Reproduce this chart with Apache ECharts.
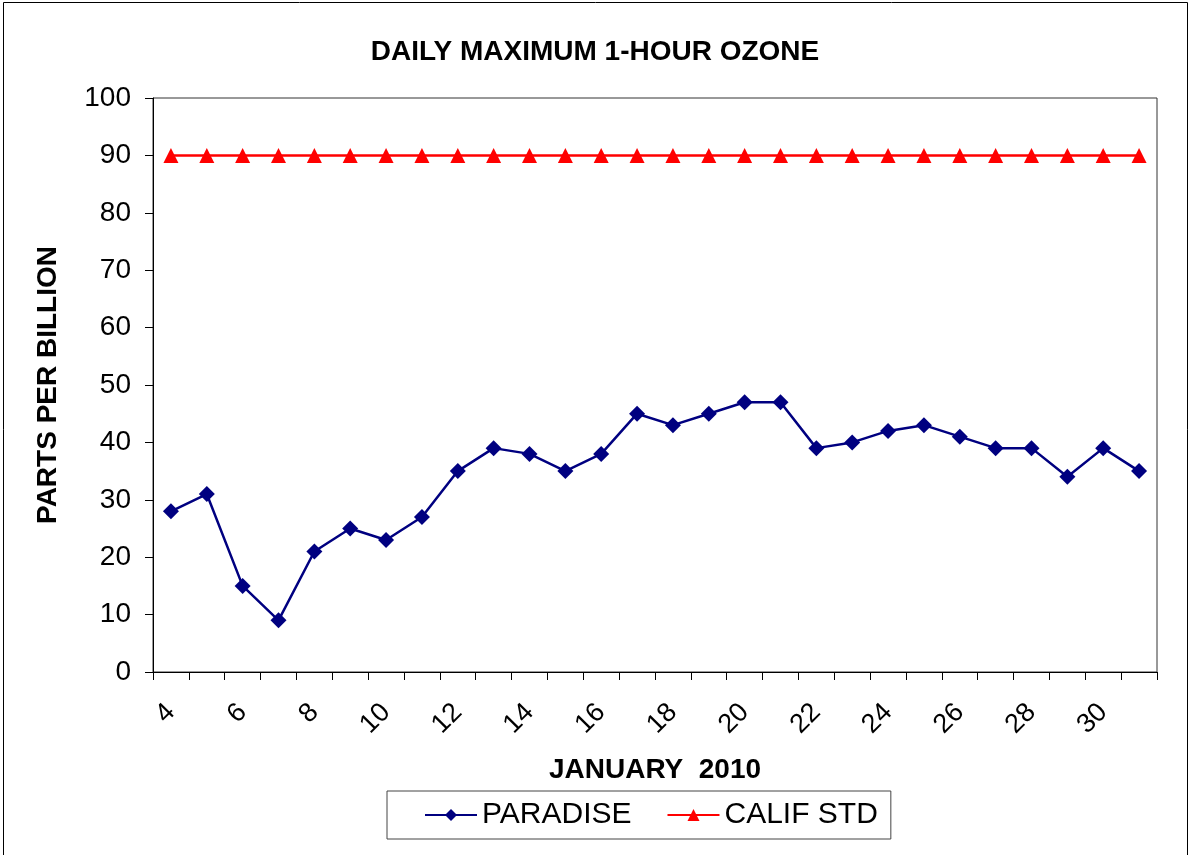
<!DOCTYPE html>
<html>
<head>
<meta charset="utf-8">
<script src="https://cdn.jsdelivr.net/npm/echarts@6/dist/echarts.min.js"></script>
<style>
  html, body { margin: 0; padding: 0; background: #fff; }
  #chart { width: 1190px; height: 855px; }
</style>
</head>
<body>
<div id="chart"></div>
<script>
// days of January 2010
var days = ['4','5','6','7','8','9','10','11','12','13','14','15','16','17','18','19','20','21','22','23','24','25','26','27','28','29','30','31'];
var paradise = [28,31,15,9,21,25,23,27,35,39,38,35,38,45,43,45,47,47,39,40,42,43,41,39,39,34,39,35];
var califStd = [90,90,90,90,90,90,90,90,90,90,90,90,90,90,90,90,90,90,90,90,90,90,90,90,90,90,90,90];

var font = '"Liberation Sans", Arial, sans-serif';

var option = {
    animation: false,
    backgroundColor: '#fff',
    title: {
        text: 'DAILY MAXIMUM 1-HOUR OZONE',
        left: 'center',
        top: 33,
        textStyle: { fontFamily: font, fontSize: 28, fontWeight: 'bold', color: '#000' }
    },
    graphic: [{
        type: 'rect',
        shape: { x: 3.5, y: 2.5, width: 1184, height: 856 },
        style: { fill: null, stroke: '#000', lineWidth: 1 }
    }],
    legend: {
        left: 387,
        top: 791,
        width: 503,
        padding: [9, 13, 9, 37],
        itemGap: 35,
        itemWidth: 52,
        itemHeight: 15,
        borderColor: '#444',
        borderWidth: 1,
        textStyle: { fontFamily: font, fontSize: 30, color: '#000' },
        data: ['PARADISE', 'CALIF STD']
    },
    grid: {
        left: 153,
        right: 33,
        top: 98,
        bottom: 183,
        show: true,
        borderColor: '#333',
        borderWidth: 1
    },
    xAxis: {
        type: 'category',
        data: days,
        boundaryGap: true,
        name: 'JANUARY  2010',
        nameLocation: 'middle',
        nameGap: 84,
        nameTextStyle: { fontFamily: font, fontSize: 28, fontWeight: 'bold', color: '#000' },
        axisLine: { lineStyle: { color: '#000', width: 1 } },
        axisTick: { show: true, interval: 0, length: 8, lineStyle: { color: '#000' } },
        axisLabel: {
            interval: 1,
            rotate: 45,
            margin: 36,
            fontFamily: font,
            fontSize: 27,
            color: '#000'
        }
    },
    yAxis: {
        type: 'value',
        min: 0,
        max: 100,
        interval: 10,
        name: 'PARTS PER BILLION',
        nameLocation: 'middle',
        nameGap: 91,
        nameTextStyle: { fontFamily: font, fontSize: 28, fontWeight: 'bold', color: '#000' },
        splitLine: { show: false },
        axisLine: { show: true, lineStyle: { color: '#000', width: 1 } },
        axisTick: { show: true, length: 8, lineStyle: { color: '#000' } },
        axisLabel: { margin: 22, fontFamily: font, fontSize: 28, color: '#000' }
    },
    series: [
        {
            name: 'PARADISE',
            type: 'line',
            data: paradise,
            symbol: 'diamond',
            symbolSize: 16,
            itemStyle: { color: '#000080' },
            lineStyle: { color: '#000080', width: 2.5 }
        },
        {
            name: 'CALIF STD',
            type: 'line',
            data: califStd,
            symbol: 'triangle',
            symbolSize: 15,
            itemStyle: { color: '#ff0000' },
            lineStyle: { color: '#ff0000', width: 2.5 }
        }
    ]
};

var myChart = echarts.init(document.getElementById('chart'));
myChart.setOption(option);
</script>
</body>
</html>
